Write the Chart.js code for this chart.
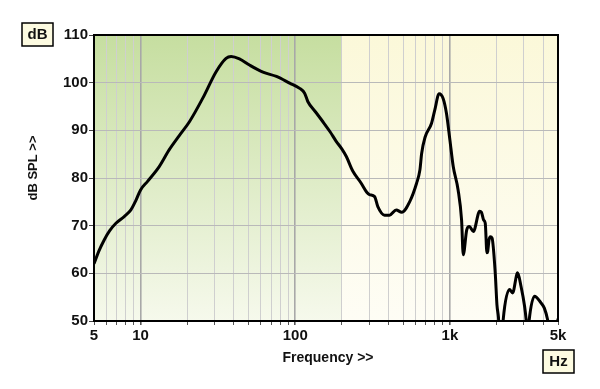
<!DOCTYPE html>
<html>
<head>
<meta charset="utf-8">
<script src="https://cdn.jsdelivr.net/npm/chart.js@4.4.1/dist/chart.umd.min.js"></script>
<style>
  html, body { margin: 0; background: #fff; }
  canvas { display: block; }
</style>
</head>
<body>
<canvas id="spl" width="600" height="389"></canvas>
<script>
// frequency response
const freqHz = [
  5, 5.4, 5.82, 6.3, 6.93, 7.84, 8.66, 9.3, 10, 11.1, 13.2, 15.3, 17.8, 20.7, 25.2, 30.8,
  35.7, 38.5, 43.6, 50.6, 61.9, 75.6, 92.1, 106.9, 115, 120.8, 135, 151, 168, 184, 200,
  214, 236, 267, 290, 302, 326, 342, 378, 407, 450, 488, 551, 609, 640, 657, 690, 761,
  799, 852, 904, 950, 1000, 1051, 1130, 1190, 1220, 1285, 1336, 1419, 1557, 1600, 1652,
  1693, 1736, 1756, 1790, 1826, 1873, 1964, 2015, 2060, 2110, 2170, 2210, 2431, 2544,
  2740, 2882, 3040, 3110, 3180, 3250, 3520, 3880, 4080, 4280, 4500, 4800, 5000
];
const splDb = [
  62.0, 64.8, 67.0, 68.9, 70.5, 71.9, 73.3, 75.2, 77.5, 79.3, 82.4, 85.9, 88.9, 91.8, 96.7, 102.3,
  105.1, 105.5, 105.0, 103.7, 102.2, 101.3, 99.9, 98.8, 97.8, 96.0, 93.9, 91.8, 89.7, 87.7, 86.1,
  84.5, 81.4, 78.9, 77.0, 76.5, 76.1, 74.0, 72.2, 72.2, 73.3, 72.8, 75.1, 78.9, 81.7, 85.2, 88.5, 91.5,
  94.3, 97.7, 96.7, 93.6, 88.0, 82.4, 77.5, 71.2, 63.9, 69.1, 69.8, 68.8, 73.0, 72.8, 71.2,
  70.5, 64.3, 64.6, 67.0, 67.7, 67.4, 60.1, 53.4, 50.8, 46, 46, 50.2, 56.6, 55.9,
  60.1, 57.3, 53.1, 50.3, 46, 50.0, 55.2, 53.8, 52.7, 50.3, 46, 46, 50.5
];

const xGridHz = [5, 6, 7, 8, 9, 10, 20, 30, 40, 50, 60, 70, 80, 90,
  100, 200, 300, 400, 500, 600, 700, 800, 900, 1000, 2000, 3000, 4000, 5000];
const xTickLabels = { 5: '5', 10: '10', 100: '100', 1000: '1k', 5000: '5k' };
const decadesHz = [10, 100, 1000];
const shadeEndHz = 200;

const FONT = 'Liberation Sans, Arial, sans-serif';

const decor = {
  id: 'decor',
  beforeDraw(chart) {
    const { ctx, chartArea: a, scales: { x } } = chart;
    const xs = x.getPixelForValue(shadeEndHz);
    let g = ctx.createLinearGradient(0, a.top, 0, a.bottom);
    g.addColorStop(0, '#c6dea0');
    g.addColorStop(1, '#f6f9ec');
    ctx.fillStyle = g;
    ctx.fillRect(a.left, a.top, xs - a.left, a.bottom - a.top);
    g = ctx.createLinearGradient(0, a.top, 0, a.bottom);
    g.addColorStop(0, '#fbf8d9');
    g.addColorStop(1, '#fefdf5');
    ctx.fillStyle = g;
    ctx.fillRect(xs, a.top, a.right - xs, a.bottom - a.top);
  },
  afterDraw(chart) {
    const { ctx, chartArea: a } = chart;
    ctx.save();
    ctx.strokeStyle = '#000';
    ctx.lineWidth = 2;
    ctx.strokeRect(a.left, a.top, a.right - a.left, a.bottom - a.top);

    ctx.fillStyle = '#111';
    ctx.textAlign = 'center';
    ctx.textBaseline = 'middle';
    ctx.font = 'bold 14px ' + FONT;
    ctx.fillText('Frequency >>', 328, 358);

    ctx.save();
    ctx.translate(33, 168);
    ctx.rotate(-Math.PI / 2);
    ctx.font = 'bold 13px ' + FONT;
    ctx.fillText('dB SPL >>', 0, 0);
    ctx.restore();

    // unit boxes
    ctx.lineWidth = 1.5;
    ctx.font = 'bold 15px ' + FONT;
    [['dB', 22, 23], ['Hz', 543, 350]].forEach(([txt, bx, by]) => {
      ctx.fillStyle = '#fdfbe1';
      ctx.fillRect(bx, by, 31, 23);
      ctx.strokeRect(bx, by, 31, 23);
      ctx.fillStyle = '#111';
      ctx.fillText(txt, bx + 15.5, by + 12);
    });
    ctx.restore();
  }
};

new Chart(document.getElementById('spl'), {
  type: 'line',
  data: {
    datasets: [{
      data: freqHz.map((f, i) => ({ x: f, y: splDb[i] })),
      borderColor: '#000',
      borderWidth: 3,
      pointRadius: 0,
      cubicInterpolationMode: 'monotone',
      clip: 0
    }]
  },
  options: {
    responsive: false,
    animation: false,
    layout: { padding: { top: 35, right: 42, left: 0, bottom: 0 } },
    plugins: { legend: { display: false }, tooltip: { enabled: false } },
    scales: {
      x: {
        type: 'logarithmic',
        min: 5,
        max: 5000,
        afterBuildTicks(s) { s.ticks = xGridHz.map(v => ({ value: v })); },
        afterFit(s) { s.height = 68; },
        ticks: {
          autoSkip: false,
          maxRotation: 0,
          padding: 2,
          color: '#111',
          font: { family: FONT, size: 15, weight: 'bold' },
          callback: v => xTickLabels[v] ?? ''
        },
        grid: {
          color: c => decadesHz.includes(c.tick && c.tick.value) ? '#a8a8a8' : '#cfcfcf',
          lineWidth: c => decadesHz.includes(c.tick && c.tick.value) ? 1.6 : 1,
          tickColor: '#555',
          tickLength: 4
        },
        border: { color: '#000', width: 2 }
      },
      y: {
        min: 50,
        max: 110,
        afterFit(s) { s.width = 94; },
        ticks: {
          stepSize: 10,
          padding: 1,
          color: '#111',
          font: { family: FONT, size: 15, weight: 'bold' }
        },
        grid: { color: '#b9b9b9', tickColor: '#444', tickLength: 5 },
        border: { color: '#000', width: 2 }
      }
    }
  },
  plugins: [decor]
});
</script>
</body>
</html>
